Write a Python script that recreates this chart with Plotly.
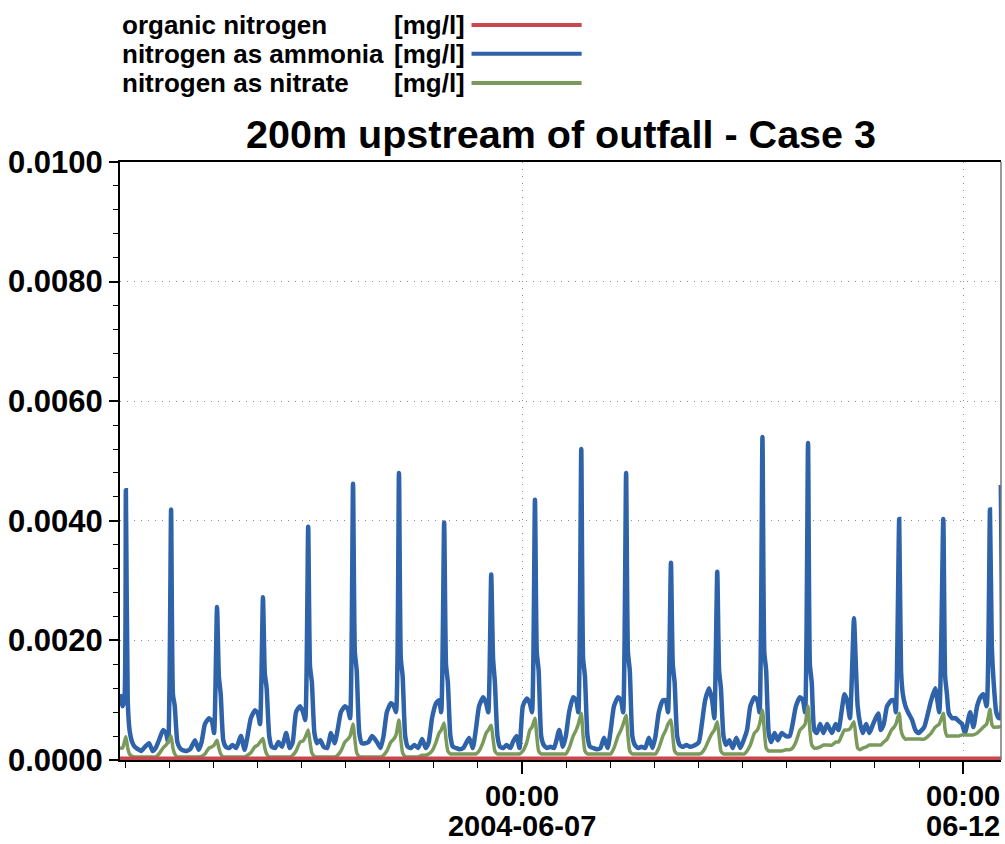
import pandas as pd
import plotly.graph_objects as go

# ---- data (hours after 2004-06-02 00:00) ----
hours = [
    10.6, 11.3, 11.8, 12.2, 12.7, 13.2, 13.9, 14.6, 15.5, 16.4, 17.4,
    18.5, 19.5, 20.3, 21.2, 22.3, 23.1, 23.7, 24.5, 25.0, 25.5, 26.2, 26.9, 27.8, 28.7, 29.7,
    31.0, 32.0, 32.8, 33.7, 34.8, 35.6, 36.2, 37.0, 37.5, 38.0, 38.7, 39.4, 40.3, 41.2, 42.2,
    43.5, 44.5, 45.3, 46.2, 47.3, 48.1, 48.7, 49.5, 50.0, 50.5, 51.2, 51.9, 52.8, 53.7, 54.7,
    55.8, 56.8, 57.6, 58.5, 59.6, 60.4, 61.0, 61.8, 62.3, 62.8, 63.5, 64.2, 65.1, 66.0, 67.0,
    68.0, 69.0, 69.8, 70.7, 71.8, 72.6, 73.2, 74.0, 74.5, 75.0, 75.7, 76.4, 77.3, 78.2, 79.2,
    80.5, 81.5, 82.3, 83.2, 84.3, 85.1, 85.7, 86.5, 87.0, 87.5, 88.2, 88.9, 89.8, 90.7, 91.7,
    92.8, 93.8, 94.6, 95.5, 96.6, 97.4, 98.0, 98.8, 99.3, 99.8, 100.5, 101.2, 102.1, 103.0, 104.0,
    105.6, 106.6, 107.4, 108.3, 109.4, 110.2, 110.8, 111.6, 112.1, 112.6, 113.3, 114.0, 114.9, 115.8, 116.8,
    117.5, 118.5, 119.3, 120.2, 121.3, 122.1, 122.7, 123.5, 124.0, 124.5, 125.2, 125.9, 126.8, 127.7, 128.7,
    130.1, 131.1, 131.9, 132.8, 133.9, 134.7, 135.3, 136.1, 136.6, 137.1, 137.8, 138.5, 139.4, 140.3, 141.3,
    142.3, 143.3, 144.1, 145.0, 146.1, 146.9, 147.5, 148.3, 148.8, 149.3, 150.0, 150.7, 151.6, 152.5, 153.5,
    154.5, 155.5, 156.3, 157.2, 158.3, 159.1, 159.7, 160.5, 161.0, 161.5, 162.2, 162.9, 163.8, 164.7, 165.7,
    167.1, 168.1, 168.9, 169.8, 170.9, 171.7, 172.3, 173.1, 173.6, 174.1, 174.8, 175.5, 176.4, 177.3, 178.3,
    179.4, 180.4, 181.2, 182.1, 183.2, 184.0, 184.6, 185.4, 185.9, 186.4, 187.1, 187.8, 188.7, 189.6, 190.6,
    191.8, 192.8, 193.6, 194.5, 195.6, 196.4, 197.0, 197.8, 198.3, 198.8, 199.5, 200.2, 201.1, 202.0, 203.0,
    204.3, 205.3, 206.1, 206.9, 207.7, 208.4, 209.2, 210.3, 210.8, 211.3, 212.0, 212.7, 213.6, 214.5, 215.5,
    216.9, 217.6, 218.4, 219.3, 220.5, 221.2, 221.7, 222.6, 223.1, 223.6, 224.3, 225.0, 226.1, 227.0, 227.8,
    229.4, 230.5, 231.3, 232.4, 233.5, 234.6, 235.1, 235.6, 236.1, 237.0, 237.9, 238.8, 239.7, 240.5,
    241.9, 242.8, 243.8, 244.7, 245.5, 246.4, 247.3, 247.8, 248.3, 249.0, 249.7, 250.1, 250.25,
]

ammonia = [
    0.0011, 0.0009, 0.0010, 0.00451, 0.0010, 0.0005, 0.0003, 0.00022, 0.00018, 0.00015, 0.00022,
    0.00028, 0.00015, 0.0002, 0.00033, 0.0005, 0.00045, 0.0003, 0.00419, 0.0011, 0.0009, 0.0003, 0.0002, 0.00016, 0.00015, 0.00018,
    0.00033, 0.00017, 0.0003, 0.0006, 0.0007, 0.00065, 0.00045, 0.00256, 0.0014, 0.0011, 0.00033, 0.00022, 0.0002, 0.00025, 0.0002,
    0.0004, 0.00017, 0.0004, 0.0007, 0.00083, 0.00078, 0.0006, 0.00272, 0.00145, 0.0012, 0.0004, 0.00022, 0.0002, 0.0003, 0.00022,
    0.00045, 0.0002, 0.0003, 0.0008, 0.0009, 0.0008, 0.00067, 0.0039, 0.00156, 0.0013, 0.00045, 0.00028, 0.00033, 0.00022, 0.0002,
    0.00045, 0.00028, 0.0005, 0.0008, 0.0009, 0.00085, 0.0007, 0.00462, 0.0018, 0.0015, 0.00045, 0.00028, 0.00028, 0.0003, 0.0004,
    0.0003, 0.0002, 0.0004, 0.0008, 0.00095, 0.0009, 0.0008, 0.0048, 0.0017, 0.0014, 0.0004, 0.00022, 0.0002, 0.00025, 0.0002,
    0.00035, 0.0002, 0.0003, 0.0007, 0.00095, 0.001, 0.0008, 0.00397, 0.0016, 0.0013, 0.0004, 0.00022, 0.0002, 0.00018, 0.0002,
    0.00037, 0.0002, 0.0005, 0.0009, 0.00105, 0.00095, 0.0008, 0.0031, 0.0017, 0.0013, 0.0004, 0.00022, 0.0002, 0.00025, 0.0002,
    0.0003, 0.0004, 0.0002, 0.0009, 0.00103, 0.00095, 0.0008, 0.00435, 0.0018, 0.0015, 0.0004, 0.00025, 0.0002, 0.00022, 0.0002,
    0.0005, 0.00022, 0.0004, 0.0008, 0.00105, 0.001, 0.0008, 0.0052, 0.0017, 0.0014, 0.0004, 0.00022, 0.0002, 0.00018, 0.0002,
    0.00037, 0.0002, 0.0005, 0.0009, 0.00105, 0.001, 0.0008, 0.0048, 0.0018, 0.0015, 0.0004, 0.00025, 0.0002, 0.00022, 0.0002,
    0.00037, 0.0002, 0.0004, 0.0008, 0.001, 0.001, 0.0008, 0.0033, 0.0016, 0.0013, 0.0004, 0.00025, 0.00022, 0.00025, 0.00022,
    0.00025, 0.0003, 0.0006, 0.001, 0.0012, 0.001, 0.0007, 0.00315, 0.0015, 0.0012, 0.0004, 0.00025, 0.00033, 0.0002, 0.00037,
    0.0002, 0.00035, 0.0005, 0.0009, 0.00105, 0.001, 0.0008, 0.0054, 0.0018, 0.0015, 0.00045, 0.0003, 0.00045, 0.00033, 0.00045,
    0.0004, 0.0004, 0.0006, 0.0009, 0.00105, 0.001, 0.0008, 0.0053, 0.0016, 0.0013, 0.0005, 0.00045, 0.0006, 0.00045, 0.0006,
    0.00045, 0.0006, 0.0005, 0.0008, 0.0011, 0.001, 0.0007, 0.00237, 0.0016, 0.0009, 0.0006, 0.00045, 0.0006, 0.00045, 0.0006,
    0.00078, 0.0005, 0.0006, 0.0009, 0.001, 0.001, 0.0008, 0.00403, 0.0015, 0.0011, 0.0009, 0.0008, 0.00067, 0.0005, 0.00045,
    0.00055, 0.0008, 0.001, 0.0012, 0.0008, 0.00403, 0.0014, 0.0011, 0.00078, 0.0007, 0.0007, 0.00065, 0.0006, 0.00045,
    0.0008, 0.00055, 0.0009, 0.00105, 0.0011, 0.0009, 0.00419, 0.0019, 0.0013, 0.0008, 0.0007, 0.0007, 0.0046,
]

nitrate = [
    0.0002, 0.0002, 0.0003, 0.00039, 0.0002, 0.0001, 0.00006, 0.00005, 0.00005, 0.00005, 0.00005,
    0.00005, 0.00005, 0.00005, 0.0001, 0.0002, 0.00025, 0.0003, 0.0004, 0.0002, 0.0001, 0.00005, 0.00005, 0.00005, 0.00005, 0.00005,
    0.00005, 0.00005, 0.00006, 0.0001, 0.0002, 0.00022, 0.00025, 0.00033, 0.0002, 0.0001, 0.00005, 0.00005, 0.00005, 0.00005, 0.00005,
    0.00005, 0.00005, 0.00008, 0.00012, 0.00022, 0.00025, 0.0003, 0.00036, 0.0002, 0.0001, 0.00005, 0.00005, 0.00005, 0.00005, 0.00005,
    0.00005, 0.00005, 0.00008, 0.00015, 0.0003, 0.00032, 0.00038, 0.0005, 0.0003, 0.00012, 0.00006, 0.00005, 0.00005, 0.00005, 0.00005,
    0.00005, 0.00005, 0.00008, 0.00015, 0.0003, 0.00035, 0.0004, 0.0006, 0.00035, 0.00012, 0.00006, 0.00005, 0.00005, 0.00005, 0.00005,
    0.00005, 0.00005, 0.00008, 0.00015, 0.0003, 0.00035, 0.00042, 0.00067, 0.00035, 0.00012, 0.00006, 0.00005, 0.00005, 0.00005, 0.00005,
    0.00008, 0.00008, 0.0001, 0.00015, 0.0003, 0.00045, 0.0005, 0.00062, 0.00035, 0.00015, 0.0001, 0.0001, 0.0001, 0.0001, 0.0001,
    0.0001, 0.0001, 0.0001, 0.00015, 0.0003, 0.00045, 0.0005, 0.00058, 0.00035, 0.00015, 0.0001, 0.0001, 0.0001, 0.0001, 0.0001,
    0.0001, 0.0001, 0.0001, 0.00015, 0.0003, 0.0005, 0.00055, 0.0007, 0.0004, 0.00015, 0.0001, 0.0001, 0.0001, 0.0001, 0.0001,
    0.0001, 0.0001, 0.0001, 0.0002, 0.0004, 0.0005, 0.0006, 0.00078, 0.0004, 0.00015, 0.0001, 0.0001, 0.0001, 0.0001, 0.0001,
    0.0001, 0.0001, 0.0001, 0.0002, 0.0004, 0.0005, 0.0006, 0.00075, 0.0004, 0.00015, 0.0001, 0.0001, 0.0001, 0.0001, 0.0001,
    0.0001, 0.0001, 0.0001, 0.0002, 0.0004, 0.0005, 0.0006, 0.00067, 0.0004, 0.00015, 0.0001, 0.0001, 0.0001, 0.0001, 0.0001,
    0.0001, 0.0001, 0.00012, 0.0002, 0.00035, 0.00045, 0.0005, 0.00064, 0.0004, 0.00015, 0.0001, 0.0001, 0.0001, 0.0001, 0.0001,
    0.0001, 0.0001, 0.00015, 0.00025, 0.00045, 0.0005, 0.0006, 0.00083, 0.0005, 0.0002, 0.00015, 0.00015, 0.00015, 0.00015, 0.00015,
    0.00017, 0.00017, 0.0002, 0.0003, 0.0005, 0.00055, 0.0006, 0.0009, 0.0005, 0.00025, 0.0002, 0.0002, 0.00022, 0.00025, 0.00025,
    0.00025, 0.0003, 0.0003, 0.0004, 0.0005, 0.0005, 0.00052, 0.00064, 0.0004, 0.0002, 0.00017, 0.0002, 0.00022, 0.00025, 0.00025,
    0.00025, 0.00025, 0.0003, 0.00035, 0.0005, 0.00055, 0.0006, 0.00078, 0.0005, 0.0004, 0.00035, 0.00035, 0.00035, 0.00035, 0.00035,
    0.00035, 0.0004, 0.00045, 0.00055, 0.0006, 0.00078, 0.0005, 0.0004, 0.0004, 0.0004, 0.0004, 0.0004, 0.00042, 0.00042,
    0.00042, 0.00042, 0.00045, 0.0005, 0.00055, 0.0006, 0.00085, 0.0006, 0.00055, 0.00055, 0.00055, 0.00056, 0.00056,
]

organic_hours = [10.6, 250.3]
organic = [0.00003, 0.00003]

series_names = ["organic nitrogen", "nitrogen as ammonia", "nitrogen as nitrate"]
unit_label = "[mg/l]"
title_text = "200m upstream of outfall - Case 3"
y_ticks = [0.0, 0.002, 0.004, 0.006, 0.008, 0.010]
x_tick_dates = ["2004-06-07 00:00", "2004-06-12 00:00"]
x_tick_time = ["00:00", "00:00"]
x_tick_day = ["2004-06-07", "06-12"]

# ---- styling ----
C_RED = "#c9474f"
C_BLUE = "#2e62a9"
C_GREEN = "#7a9a5c"
FONT = "Liberation Sans"
GRID = dict(showgrid=True, gridcolor="#8c8c8c", griddash="1px,6px", gridwidth=1)

t0 = pd.Timestamp("2004-06-02 00:00")
t_amm = t0 + pd.to_timedelta(hours, unit="h")
t_org = t0 + pd.to_timedelta(organic_hours, unit="h")
x_range = [t0 + pd.Timedelta(hours=10.6), t0 + pd.Timedelta(hours=250.3)]

fig = go.Figure()
fig.add_trace(go.Scatter(x=t_amm, y=ammonia, mode="lines", name=series_names[1],
                         line=dict(color=C_BLUE, width=4.5, shape="spline", smoothing=0.5)))
fig.add_trace(go.Scatter(x=t_amm, y=nitrate, mode="lines", name=series_names[2],
                         line=dict(color=C_GREEN, width=3.5, shape="spline", smoothing=0.5)))
fig.add_trace(go.Scatter(x=t_org, y=organic, mode="lines", name=series_names[0],
                         line=dict(color=C_RED, width=3.5)))

fig.update_layout(
    width=1005, height=844,
    margin=dict(l=120, r=4, t=162, b=84, autoexpand=False),
    paper_bgcolor="white", plot_bgcolor="white",
    showlegend=False,
    font=dict(family=FONT, color="black"),
    xaxis=dict(
        type="date", range=x_range, automargin=False,
        tickmode="array", tickvals=x_tick_dates, ticktext=x_tick_time,
        ticks="outside", ticklen=12, tickwidth=1.5, tickcolor="black",
        tickfont=dict(family=FONT, size=29, weight="bold"),
        ticklabelstandoff=-3,
        showline=True, linecolor="black", linewidth=2, mirror=True,
        minor=dict(dtick=12 * 3600 * 1000, tick0="2004-06-02", ticks="outside",
                   ticklen=6, tickcolor="black", tickwidth=1, showgrid=False),
        zeroline=False, **GRID,
    ),
    xaxis2=dict(
        type="date", range=x_range, matches="x", overlaying="x", anchor="y",
        side="bottom", automargin=False,
        tickmode="array", tickvals=x_tick_dates, ticktext=x_tick_day,
        ticks="", showline=False, showgrid=False, zeroline=False,
        tickfont=dict(family=FONT, size=29, weight="bold"),
        ticklabelstandoff=46,
    ),
    yaxis=dict(
        range=[0, 0.01], automargin=False,
        tickmode="array", tickvals=y_ticks, tickformat=".4f",
        ticks="outside", ticklen=9, tickwidth=1.5, tickcolor="black",
        tickfont=dict(family=FONT, size=31, weight="bold"),
        ticklabelstandoff=0,
        showline=True, linecolor="black", linewidth=2,
        minor=dict(dtick=0.0004, ticks="outside", ticklen=5, tickcolor="black",
                   tickwidth=1, showgrid=False),
        zeroline=False, **GRID,
    ),
)

# an invisible trace on the second x-axis so that it is drawn
fig.add_trace(go.Scatter(x=x_range, y=[None, None], xaxis="x2", mode="lines",
                         showlegend=False, hoverinfo="skip"))

# right frame (thin grey)
fig.add_shape(type="line", xref="paper", yref="paper", x0=1, x1=1, y0=0, y1=1,
              line=dict(color="#777777", width=1.5))

# title
fig.add_annotation(text=f"<b>{title_text}</b>", xref="paper", yref="paper",
                   x=0.5, y=1.046, xanchor="center", yanchor="middle", showarrow=False,
                   font=dict(family=FONT, size=39.5, color="black"))

# legend (text then line sample)
leg_y = [1.229, 1.181, 1.132]
leg_col = [C_RED, C_BLUE, C_GREEN]
for nm, yy, col in zip(series_names, leg_y, leg_col):
    fig.add_annotation(text=f"<b>{nm}</b>", xref="paper", yref="paper", x=0.0, y=yy,
                       xanchor="left", yanchor="middle", showarrow=False,
                       font=dict(family=FONT, size=26, color="black"))
    fig.add_annotation(text=f"<b>{unit_label}</b>", xref="paper", yref="paper", x=0.309, y=yy,
                       xanchor="left", yanchor="middle", showarrow=False,
                       font=dict(family=FONT, size=26, color="black"))
    fig.add_shape(type="line", xref="paper", yref="paper", x0=0.399, x1=0.524,
                  y0=yy, y1=yy, line=dict(color=col, width=4))

# remove the page's default 8px body margin so the figure fills the window exactly
fig.write_html("out.html",
               config={"displayModeBar": False},
               post_script="document.body.style.margin='0';document.body.style.overflow='hidden';")
